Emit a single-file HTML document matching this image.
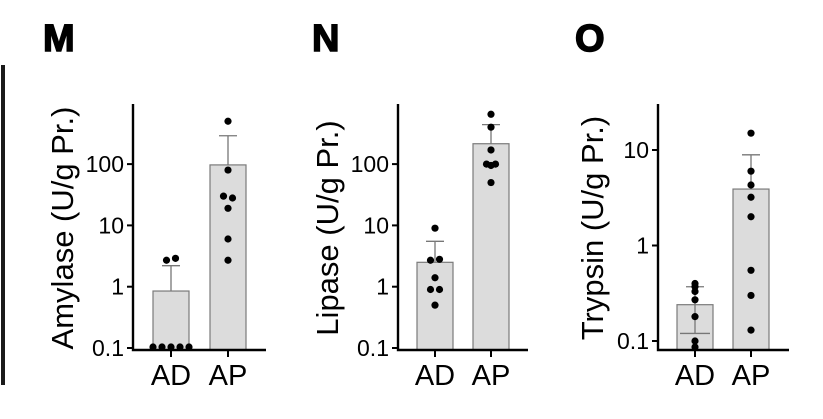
<!DOCTYPE html>
<html><head><meta charset="utf-8"><style>
html,body{margin:0;padding:0;background:#fff;}
svg{display:block;font-family:"Liberation Sans",Arial,sans-serif;}
</style></head><body>
<svg id="fig" width="823" height="419" viewBox="0 0 823 419">
<rect x="1" y="65" width="4" height="320" fill="#1a1a1a"/>
</svg>
<script>
const categories = ["AD","AP"];
const amylaseMeans = [0.85, 97];
const amylaseErr = [2.2, 290];
const amylaseAD = [0.1,0.1,0.1,0.1,0.1,2.7,2.9];
const amylaseAP = [500,80,30,28,19,6,2.7];
const lipaseMeans = [2.5, 215];
const lipaseErr = [5.5, 440];
const lipaseAD = [9,2.7,2.8,1.4,0.9,0.9,0.5];
const lipaseAP = [650,400,170,100,100,95,50];
const trypsinMeans = [0.24, 3.9];
const trypsinErrHigh = [0.37, 8.9];
const trypsinErrLow = [0.12, null];
const trypsinAD = [0.4,0.33,0.37,0.27,0.18,0.1,0.085];
const trypsinAP = [15,6,4.3,3.2,2,0.55,0.3,0.13];
const tickA = ["0.1","1","10","100"];
const tickT = ["0.1","1","10"];

const NS="http://www.w3.org/2000/svg";
const svg=document.getElementById('fig');
function mk(tag,attrs,parent){const e=document.createElementNS(NS,tag);for(const k in attrs)e.setAttribute(k,attrs[k]);(parent||svg).appendChild(e);return e;}

function panel(p){
  const g=mk('g',{});
  
  
  const y=v=>p.y01-(Math.log10(v)-Math.log10(0.1))*p.dec;
  const lab=mk('text',{x:p.lx,y:51,'font-size':38,'font-weight':'bold',stroke:'#000','stroke-width':1.5},g);
  lab.textContent=p.letter;
  
  
  p.means.forEach((m,i)=>{
    const cx=p.cx[i];
    const top=y(m);
    const b=mk('rect',{x:cx-18,y:top,width:36,height:350-top,fill:'#dcdcdc',stroke:'#7a7a7a','stroke-width':1.2},g);
    
    
    const eh=p.errH[i];
    const el=mk('path',{d:`M${cx},${top}V${y(eh)}M${cx-9},${y(eh)}H${cx+9}`,stroke:'#777','stroke-width':1.3,fill:'none'},g);
    
    
    if(p.errL&&p.errL[i]!=null){
      const yl=y(p.errL[i]);
      const e2=mk('path',{d:`M${cx},${top}V${yl}M${cx-15},${yl}H${cx+15}`,stroke:'#777','stroke-width':1.3,fill:'none'},g);
      
      
    }
  });
  [p.ad,p.ap].forEach((arr,i)=>{
    const cx=p.cx[i];
    const counts={};
    arr.forEach(v=>{const k=Math.round(y(v)/6);counts[k]=(counts[k]||0)+1;});
    const seen={};
    arr.forEach(v=>{
      const k=Math.round(y(v)/6);const n=counts[k];seen[k]=(seen[k]||0);
      const off=(seen[k]-(n-1)/2)*9;seen[k]++;
      const d=mk('circle',{cx:cx+off,cy:Math.min(y(v),347),r:3.6,fill:'#000'},g);
      
      
    });
  });
  const ax=mk('path',{d:`M${p.ax},104V350H${p.axEnd}`,stroke:'#000','stroke-width':2.4,fill:'none'},g);
  
  
  p.ticks.forEach(t=>{
    const ty=y(parseFloat(t));
    mk('line',{x1:p.ax-6,x2:p.ax,y1:ty,y2:ty,stroke:'#000','stroke-width':2},g);
    const tt=mk('text',{x:p.ax-9,y:ty+8,'font-size':23,'text-anchor':'end'},g);
    tt.textContent=t;
    
    
  });
  categories.forEach((c,i)=>{
    mk('line',{x1:p.cx[i],x2:p.cx[i],y1:350,y2:357,stroke:'#000','stroke-width':2},g);
    const t=mk('text',{x:p.cx[i],y:385,'font-size':29,'text-anchor':'middle'},g);
    t.textContent=c;
    
    
  });
  const yt=mk('text',{x:0,y:0,'font-size':31,'text-anchor':'middle',transform:`translate(${p.tx},${p.ty}) rotate(-90)`},g);
  yt.textContent=p.title;
  
  
}
panel({name:'amylase',letter:'M',lx:43,ax:133,axEnd:266,cx:[171,228],y01:348,dec:61.3,means:amylaseMeans,errH:amylaseErr,ad:amylaseAD,ap:amylaseAP,ticks:tickA,title:'Amylase (U/g Pr.)',tx:73,ty:228});
panel({name:'lipase',letter:'N',lx:312,ax:398,axEnd:528,cx:[435,491],y01:348,dec:61.3,means:lipaseMeans,errH:lipaseErr,ad:lipaseAD,ap:lipaseAP,ticks:tickA,title:'Lipase (U/g Pr.)',tx:338,ty:228});
panel({name:'trypsin',letter:'O',lx:575,ax:658,axEnd:789,cx:[695,751],y01:341,dec:95.5,means:trypsinMeans,errH:trypsinErrHigh,errL:trypsinErrLow,ad:trypsinAD,ap:trypsinAP,ticks:tickT,title:'Trypsin (U/g Pr.)',tx:603,ty:228});
</script>
</body></html>
